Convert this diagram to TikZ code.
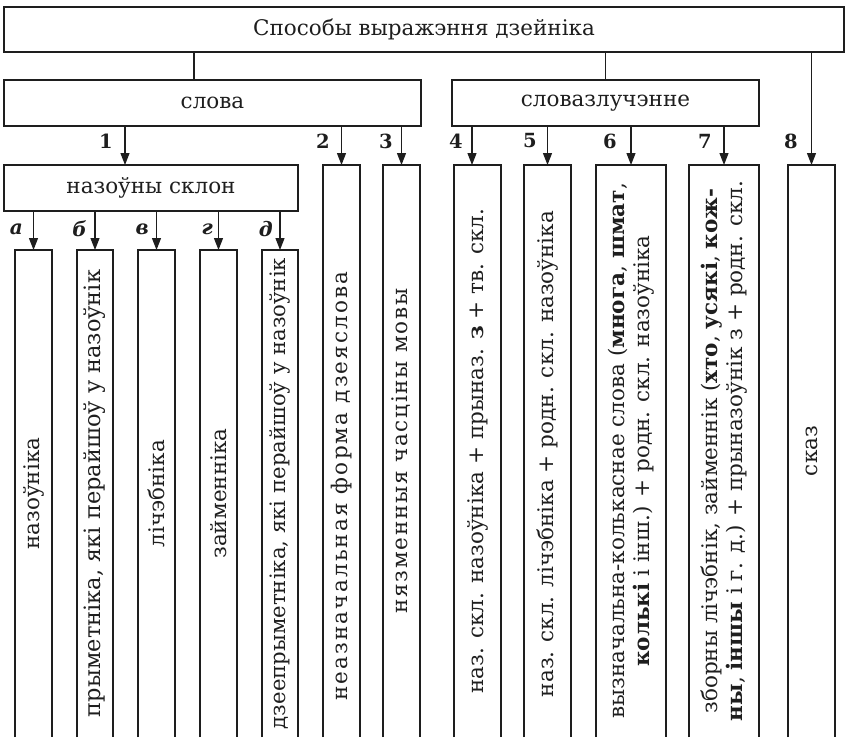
\documentclass[tikz,border=0pt]{standalone}
\usepackage{fontspec}
\setmainfont{DejaVu Serif}
\usetikzlibrary{arrows.meta}
\definecolor{ink}{HTML}{1E1E1E}
\begin{document}
\begin{tikzpicture}[x=1pt,y=-1pt,
  every node/.style={text=ink},
  txt/.style={font=\fontsize{21.5}{25}\selectfont},
  box/.style={txt, draw=ink, line width=1.2pt, rectangle, inner sep=0pt, outer sep=0pt},
  frame/.style={rectangle, draw=none, inner sep=0pt, outer sep=0pt, anchor=north west},
  edge/.style={draw=ink, line width=1.2pt},
  arr/.style={draw=ink, line width=1.2pt, -{Triangle[length=12pt,width=9pt]}},
  num/.style={font=\fontsize{19.5}{20}\selectfont\bfseries, anchor=east, inner sep=0pt},
  lett/.style={font=\fontsize{20}{20}\selectfont\bfseries\itshape, anchor=east, inner sep=0pt},
  vtext/.style={txt, rotate=90, align=center, inner sep=0pt}
]
\useasboundingbox (0,0) rectangle (845,737);

% top level
\node[box, anchor=north west, minimum width=840pt, minimum height=45pt] (top) at (4,7) {Способы выражэння дзейніка};
\node[box, anchor=north west, minimum width=417pt, minimum height=46pt] (slova) at (4,80) {слова};
\node[box, anchor=north west, minimum width=307pt, minimum height=46pt] (szl) at (452,80) {словазлучэнне};
\node[box, anchor=north west, minimum width=294pt, minimum height=46pt] (nsk) at (4,165) {назоўны склон};

% open column frames (row under назоўны склон)
\node[frame, minimum width=37pt, minimum height=487pt] (ba) at (15,250) {};
\node[frame, minimum width=36pt, minimum height=487pt] (bb) at (77,250) {};
\node[frame, minimum width=37pt, minimum height=487pt] (bv) at (138,250) {};
\node[frame, minimum width=37pt, minimum height=487pt] (bg) at (200,250) {};
\node[frame, minimum width=36pt, minimum height=487pt] (bd) at (262,250) {};
% second row
\node[frame, minimum width=37pt, minimum height=572pt] (b2) at (323,165) {};
\node[frame, minimum width=37pt, minimum height=572pt] (b3) at (383,165) {};
\node[frame, minimum width=47pt, minimum height=572pt] (b4) at (454,165) {};
\node[frame, minimum width=47pt, minimum height=572pt] (b5) at (524,165) {};
\node[frame, minimum width=70pt, minimum height=572pt] (b6) at (596,165) {};
\node[frame, minimum width=70pt, minimum height=572pt] (b7) at (689,165) {};
\node[frame, minimum width=47pt, minimum height=572pt] (b8) at (788,165) {};

\foreach \b in {ba,bb,bv,bg,bd,b2,b3,b4,b5,b6,b7,b8}{
  \draw[edge] (\b.south west) -- (\b.north west) -- (\b.north east) -- (\b.south east);
}

% column texts
\node[vtext] (ta) at (ba.center) {назоўніка};
\node[vtext, font=\fontsize{22.5}{25}\selectfont] (tb) at (bb.center) {прыметніка, які перайшоў у назоўнік};
\node[vtext] (tv) at (bv.center) {лічэбніка};
\node[vtext] (tg) at (bg.center) {займенніка};
\node[vtext, font=\fontsize{21.2}{25}\selectfont] (td) at (bd.center) {дзеепрыметніка, які перайшоў у назоўнік};
\node[vtext, font=\fontsize{21.5}{25}\selectfont\addfontfeatures{LetterSpace=10}] (t2) at ([yshift=-35pt]b2.center) {неазначальная форма дзеяслова};
\node[vtext, font=\fontsize{21.5}{25}\selectfont\addfontfeatures{LetterSpace=8}] (t3) at (b3.center) {нязменныя часціны мовы};
\node[vtext] (t4) at (b4.center) {наз. скл. назоўніка + прыназ. \textbf{з} + тв. скл.};
\node[vtext] (t5) at ([yshift=-3pt]b5.center) {наз. скл. лічэбніка + родн. скл. назоўніка};
\node[vtext] (t6) at (b6.center) {вызначальна-колькаснае слова (\textbf{многа}, \textbf{шмат},\\ \textbf{колькі} і інш.) + родн. скл. назоўніка};
\node[vtext] (t7) at (b7.center) {зборны лічэбнік, займеннік (\textbf{хто}, \textbf{усякі}, \textbf{кож-}\\ \textbf{ны}, \textbf{іншы} і г. д.) + прыназоўнік з + родн. скл.};
\node[vtext] (t8) at (b8.center) {сказ};

% connectors from top box
\draw[edge] (top.south -| 194,0) -- (slova.north -| 194,0);
\draw[edge] (top.south -| szl.north) -- (szl.north);
\draw[arr] (top.south -| b8.north) -- (b8.north);

% from слова
\draw[arr] (slova.south -| 125,0) -- (nsk.north -| 125,0);
\draw[arr] (slova.south -| b2.north) -- (b2.north);
\draw[arr] (slova.south -| b3.north) -- (b3.north);
% from словазлучэнне
\draw[arr] (szl.south -| 472,0) -- (b4.north -| 472,0);
\draw[arr] (szl.south -| b5.north) -- (b5.north);
\draw[arr] (szl.south -| b6.north) -- (b6.north);
\draw[arr] (szl.south -| b7.north) -- (b7.north);
% from назоўны склон
\foreach \b in {ba,bb,bv,bg,bd}{
  \draw[arr] (nsk.south -| \b.north) -- (\b.north);
}

% number labels
\node[num] (n1) at (113,141) {1};
\node[num] (n2) at (330,141) {2};
\node[num] (n3) at (393,141) {3};
\node[num] (n4) at (463,141) {4};
\node[num] (n5) at (537,141) {5};
\node[num] (n6) at (617,141) {6};
\node[num] (n7) at (712,141) {7};
\node[num] (n8) at (798,141) {8};
% letter labels
\node[lett] (la) at (23,229) {а};
\node[lett] (lb) at (87,229) {б};
\node[lett] (lv) at (149,229) {в};
\node[lett] (lg) at (213,229) {г};
\node[lett] (ld) at (273,229) {д};
\end{tikzpicture}
\end{document}
